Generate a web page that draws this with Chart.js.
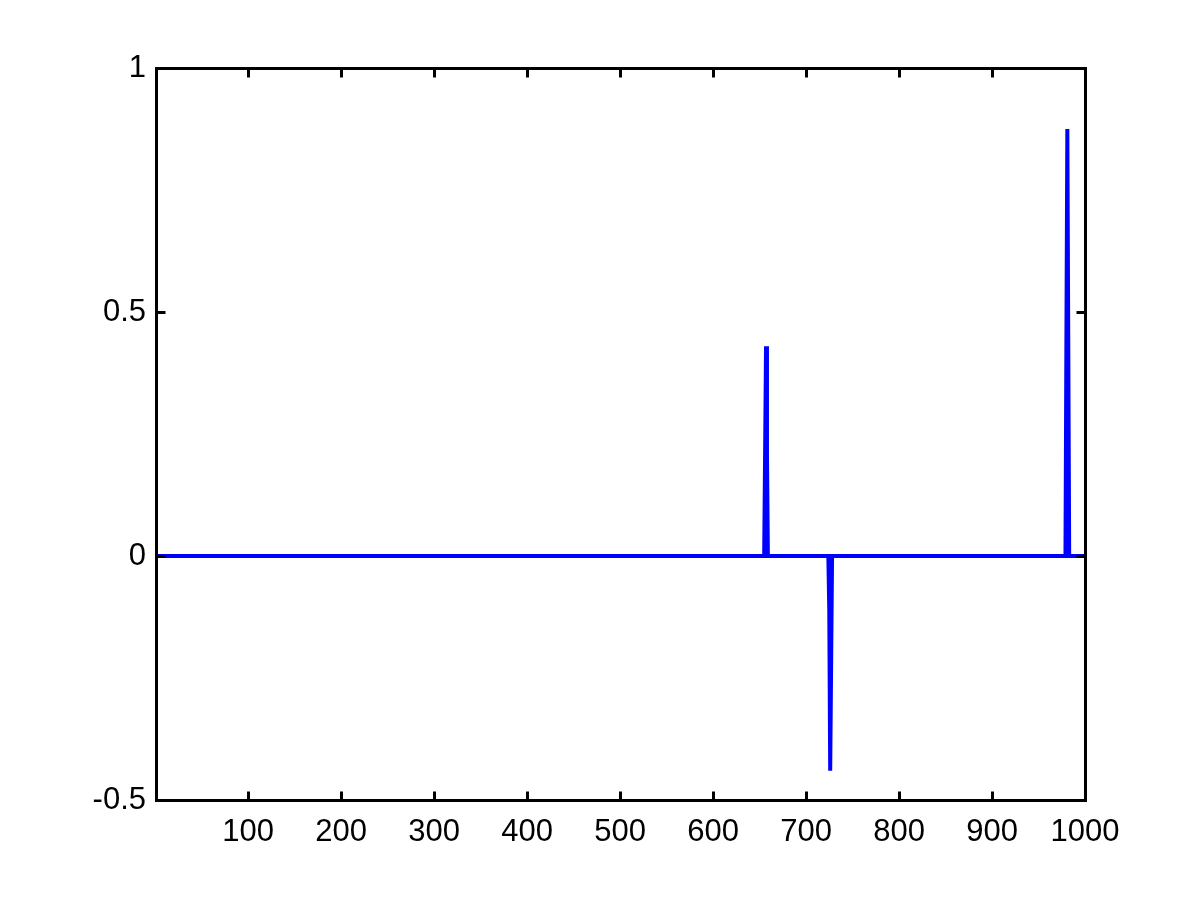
<!DOCTYPE html>
<html>
<head>
<meta charset="utf-8">
<title>Signal spikes</title>
<script src="https://cdn.jsdelivr.net/npm/chart.js@4/dist/chart.umd.min.js"></script>
<style>
  body { margin: 0; background: #fff; }
  canvas { display: block; }
</style>
</head>
<body>
<canvas id="plot" width="1200" height="900"></canvas>
<script>
// sample index and value, only where the signal changes (rest is flat at 0)
const sampleIdx = [1, 655, 656, 657, 658, 659, 724, 725, 726, 727, 728, 979, 980, 981, 982, 983, 1000];
const sampleVal = [0, 0, 0.21, 0.43, 0.21, 0, 0, -0.11, -0.44, -0.22, 0, 0, 0.44, 0.875, 0.44, 0, 0];

const xTicks = [100, 200, 300, 400, 500, 600, 700, 800, 900, 1000];
const yTicks = [-0.5, 0, 0.5, 1];

const TICK_LEN = 9;

// MATLAB-style box with inward ticks on all four sides
const boxPlugin = {
  id: "box",
  afterDatasetsDraw(chart) {
    const { ctx, chartArea: a, scales } = chart;
    const L = Math.round(a.left) + 0.5, R = Math.round(a.right) + 0.5;
    const T = Math.round(a.top) + 0.5, B = Math.round(a.bottom) + 0.5;
    ctx.save();
    ctx.strokeStyle = "#000";
    ctx.lineWidth = 3;
    ctx.beginPath();
    xTicks.forEach(v => {
      const px = Math.round(scales.x.getPixelForValue(v)) + 0.5;
      ctx.moveTo(px, B);
      ctx.lineTo(px, B - TICK_LEN);
      ctx.moveTo(px, T);
      ctx.lineTo(px, T + TICK_LEN);
    });
    yTicks.forEach(v => {
      const py = Math.round(scales.y.getPixelForValue(v)) + 0.5;
      ctx.moveTo(L, py);
      ctx.lineTo(L + TICK_LEN, py);
      ctx.moveTo(R, py);
      ctx.lineTo(R - TICK_LEN, py);
    });
    ctx.stroke();
    ctx.strokeRect(L, T, R - L, B - T);
    ctx.restore();
  }
};

const tickFont = { family: "'Liberation Sans', Arial, sans-serif", size: 31 };

new Chart(document.getElementById("plot"), {
  type: "line",
  data: {
    datasets: [{
      data: sampleIdx.map((x, i) => ({ x, y: sampleVal[i] })),
      borderColor: "#0000ff",
      borderWidth: 4,
      pointRadius: 0,
      tension: 0,
      fill: false
    }]
  },
  options: {
    responsive: false,
    animation: false,
    events: [],
    layout: { padding: { top: 68, right: 115, left: 0, bottom: 0 } },
    plugins: { legend: { display: false }, tooltip: { enabled: false } },
    scales: {
      x: {
        type: "linear",
        min: 1,
        max: 1000,
        afterBuildTicks: s => { s.ticks = xTicks.map(v => ({ value: v })); },
        afterFit: s => { s.height = 100; },
        grid: { display: false },
        border: { display: false },
        ticks: { color: "#000", font: tickFont, padding: 6, maxRotation: 0, autoSkip: false, callback: v => String(v) }
      },
      y: {
        min: -0.5,
        max: 1,
        afterBuildTicks: s => { s.ticks = yTicks.map(v => ({ value: v })); },
        afterFit: s => { s.width = 156; },
        grid: { display: false },
        border: { display: false },
        ticks: { color: "#000", font: tickFont, padding: 2, callback: v => String(v) }
      }
    }
  },
  plugins: [boxPlugin]
});
</script>
</body>
</html>
